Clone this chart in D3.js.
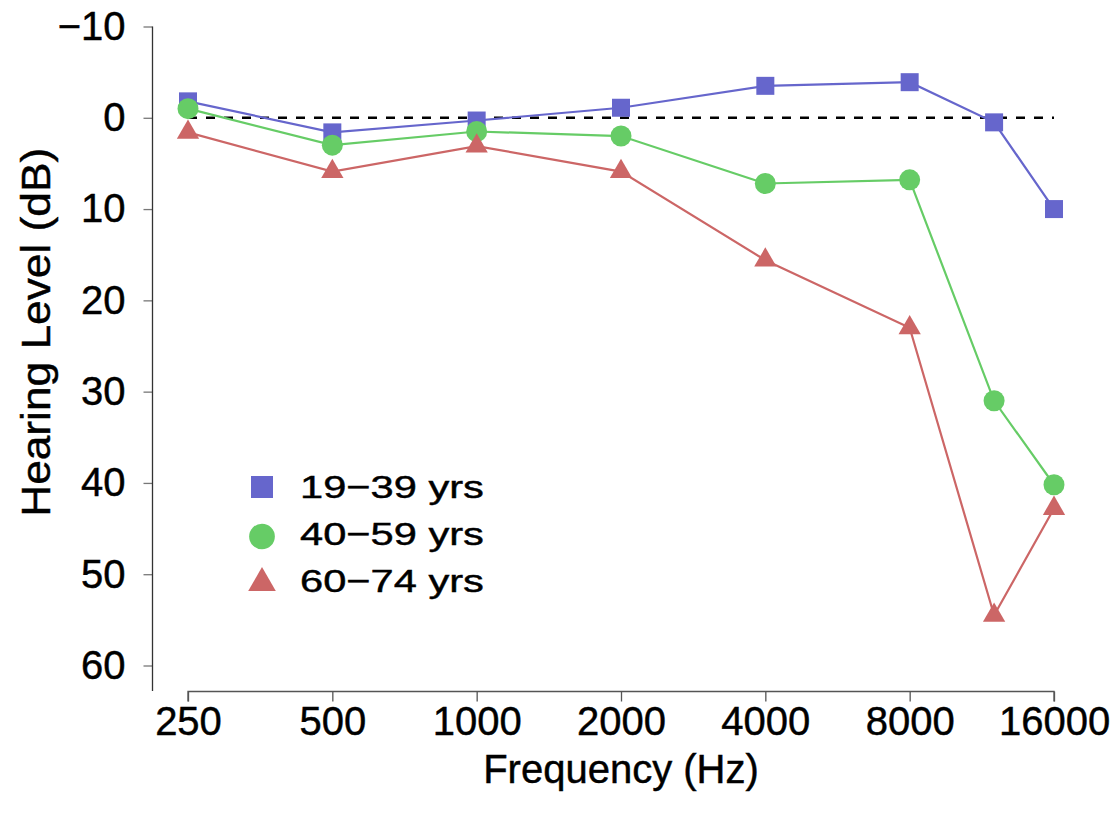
<!DOCTYPE html>
<html>
<head>
<meta charset="utf-8">
<script src="https://cdn.jsdelivr.net/npm/d3@7"></script>
<style>
  html, body { margin: 0; padding: 0; background: #fff; }
  svg { display: block; font-family: "Liberation Sans", Arial, sans-serif; }
  text { stroke: #000; stroke-width: 0.45px; fill: #000; }
</style>
</head>
<body>
<svg id="chart" width="1116" height="817"></svg>
<script>
const frequencies = [250, 500, 1000, 2000, 4000, 8000, 12000, 16000];
const xTickValues = [250, 500, 1000, 2000, 4000, 8000, 16000];
const yTickValues = [-10, 0, 10, 20, 30, 40, 50, 60];
const seriesNames = ["19\u221239 yrs", "40\u221259 yrs", "60\u221274 yrs"];
const young = [-1.8, 1.6, 0.3, -1.1, -3.5, -3.9, 0.5, 10.0];
const middle = [-1.0, 3.0, 1.5, 2.0, 7.2, 6.8, 31.0, 40.2];
const older = [1.6, 5.9, 3.1, 5.9, 15.6, 23.0, 54.5, 42.8];
const seriesColors = ["#6666CC", "#66CC66", "#CC6666"];

const svg = d3.select("#chart");
const x = d3.scaleLog().base(2).domain([250, 16000]).range([188, 1054]);
const y = d3.scaleLinear().domain([-10, 60]).range([26.5, 665.5]);

const series = [
  { name: seriesNames[0], values: young, color: seriesColors[0], symbol: d3.symbolSquare, size: 324, lsize: 484 },
  { name: seriesNames[1], values: middle, color: seriesColors[1], symbol: d3.symbolCircle, size: 346, lsize: 520 },
  { name: seriesNames[2], values: older, color: seriesColors[2], symbol: d3.symbolTriangle, size: 215, lsize: 330 }
];

// Y axis
const yAxis = d3.axisLeft(y).tickValues(yTickValues).tickSize(9).tickPadding(18)
  .tickFormat(d => d < 0 ? "\u2212" + Math.abs(d) : d);
const gy = svg.append("g").attr("transform", "translate(152.5,0)").call(yAxis);
gy.select(".domain").remove();
gy.append("line").attr("x1", 0).attr("x2", 0).attr("y1", y(-10)).attr("y2", 691)
  .attr("stroke", "#333").attr("stroke-width", 1.3);
gy.selectAll(".tick line").attr("stroke", "#777").attr("stroke-width", 1.3);
gy.selectAll(".tick text").attr("font-size", 40).attr("fill", "#000")
  .attr("font-family", "Liberation Sans, Arial, sans-serif");

// X axis
const xAxis = d3.axisBottom(x).tickValues(xTickValues).tickSize(10).tickPadding(5)
  .tickFormat(d3.format("d"));
const gx = svg.append("g").attr("transform", "translate(0,691.5)").call(xAxis);
gx.select(".domain").attr("d", `M${x(250)},10V0H${x(16000)}V10`).attr("stroke", "#555").attr("stroke-width", 1.3);
gx.selectAll(".tick line").attr("stroke", "#555").attr("stroke-width", 1.3);
gx.selectAll(".tick text").attr("font-size", 40).attr("fill", "#000")
  .attr("font-family", "Liberation Sans, Arial, sans-serif");

// Axis titles
svg.append("text").attr("x", x(2000)).attr("y", 783).attr("text-anchor", "middle")
  .attr("font-size", 40).text("Frequency (Hz)");
svg.append("text").attr("transform", `translate(50,${y(23.5)}) rotate(-90) scale(1.08,1)`).attr("text-anchor", "middle")
  .attr("font-size", 41).text("Hearing Level (dB)");

// Reference dashed line at 0 dB
svg.append("line").attr("x1", x(250)).attr("x2", x(16000)).attr("y1", y(0)).attr("y2", y(0))
  .attr("stroke", "#000").attr("stroke-width", 2.5).attr("stroke-dasharray", "9,9");

// Lines and markers
const line = d3.line().x((d, i) => x(frequencies[i])).y(d => y(d));
series.forEach(s => {
  svg.append("path").datum(s.values).attr("d", line).attr("fill", "none")
    .attr("stroke", s.color).attr("stroke-width", 2.2);
});
series.forEach(s => {
  svg.append("g").selectAll("path").data(s.values).join("path")
    .attr("transform", (d, i) => `translate(${x(frequencies[i])},${y(d)})`)
    .attr("d", d3.symbol().type(s.symbol).size(s.size)())
    .attr("fill", s.color);
});

// Legend
const legendY = [487, 536.5, 583];
const legendBase = [498, 545, 592];
series.forEach((s, i) => {
  svg.append("path").attr("transform", `translate(262,${legendY[i]})`)
    .attr("d", d3.symbol().type(s.symbol).size(s.lsize)()).attr("fill", s.color);
  svg.append("text").attr("transform", `translate(300,${legendBase[i]}) scale(1.3,1)`)
    .attr("font-size", 32).attr("fill", "#000").text(s.name);
});
</script>
</body>
</html>
